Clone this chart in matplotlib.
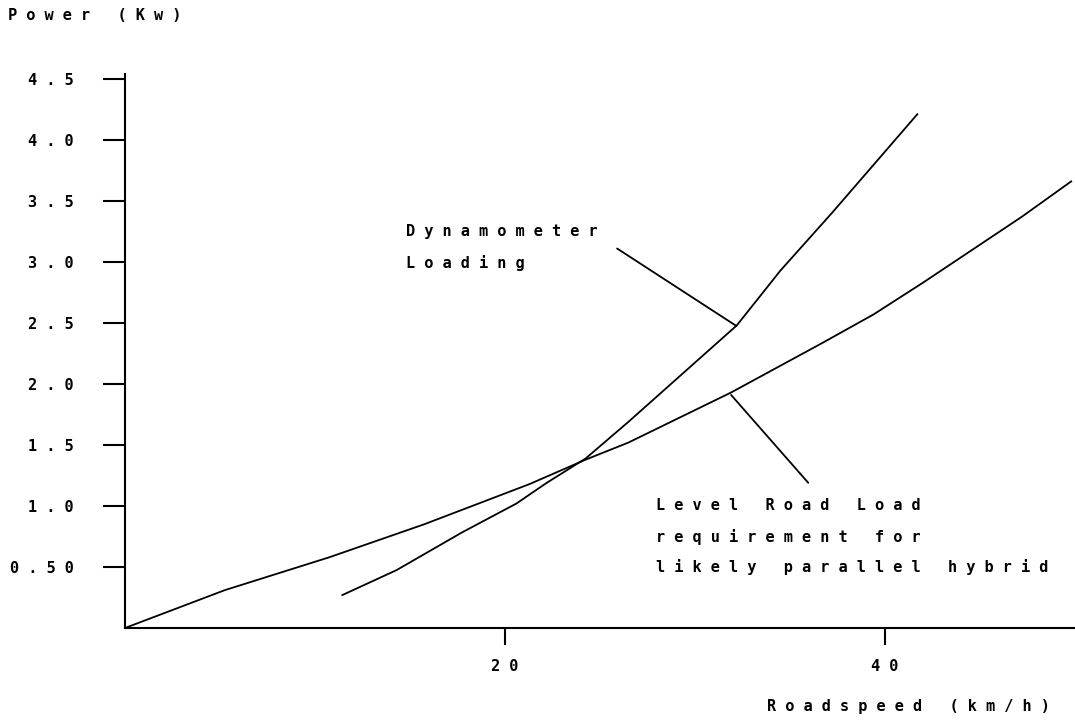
import matplotlib
matplotlib.use("Agg")
from matplotlib import pyplot as plt

# roadspeed (km/h) vs power (kW)
road_speed = [0, 5.25, 10.76, 15.75, 21.3, 24.25, 26.5, 31.9, 36.75, 39.4, 42.0, 44.6, 47.2, 49.8]
road_power = [0, 0.31, 0.58, 0.85, 1.18, 1.38, 1.52, 1.93, 2.34, 2.57, 2.83, 3.10, 3.37, 3.66]

dyno_speed = [11.44, 14.3, 17.7, 20.6, 22.2, 24.25, 26.5, 32.2, 34.5, 37.2, 41.7]
dyno_power = [0.27, 0.475, 0.78, 1.02, 1.19, 1.39, 1.69, 2.48, 2.93, 3.40, 4.21]

y_ticks = [0.5, 1.0, 1.5, 2.0, 2.5, 3.0, 3.5, 4.0, 4.5]
y_labels = ["0.50", "1.0", "1.5", "2.0", "2.5", "3.0", "3.5", "4.0", "4.5"]
x_ticks = [20, 40]
x_labels = ["20", "40"]


def spaced(s):
    # old plotter font has very wide letter spacing
    return " ".join(s)


font = dict(family="DejaVu Sans Mono", size=11, weight="bold")

fig = plt.figure(figsize=(10.75, 7.2), dpi=100)
ax = fig.add_axes([125 / 1075, 92 / 720, 950 / 1075, 554 / 720])

ax.plot(road_speed, road_power, color="black", lw=1.3)
ax.plot(dyno_speed, dyno_power, color="black", lw=1.3)

ax.set_xlim(0, 50)
ax.set_ylim(0, 4.54)

for side in ["top", "right"]:
    ax.spines[side].set_visible(False)
for side in ["left", "bottom"]:
    ax.spines[side].set_linewidth(1.5)

ax.set_yticks(y_ticks)
ax.set_yticklabels([spaced(t) for t in y_labels], fontdict=font)
ax.set_xticks(x_ticks)
ax.set_xticklabels([spaced(t) for t in x_labels], fontdict=font)
ax.tick_params(axis="y", direction="out", length=16, width=1.5, pad=21)
ax.tick_params(axis="x", direction="out", length=12, width=1.5, pad=10)

fig.text(8 / 1075, 1 - 16 / 720, spaced("Power (Kw)"), ha="left", va="center", **font)
fig.text(1050 / 1075, 1 - 706 / 720, spaced("Roadspeed (km/h)"), ha="right", va="center", **font)

# callouts
ax.text(14.77, 3.25, spaced("Dynamometer"), ha="left", va="center", **font)
ax.text(14.77, 2.99, spaced("Loading"), ha="left", va="center", **font)
ax.annotate("", xy=(32.18, 2.475), xytext=(25.9, 3.11),
            arrowprops=dict(arrowstyle="-", color="black", lw=1.3, shrinkA=0, shrinkB=0))

ax.text(27.97, 1.0, spaced("Level Road Load"), ha="left", va="center", **font)
ax.text(27.97, 0.746, spaced("requirement for"), ha="left", va="center", **font)
ax.text(27.97, 0.5, spaced("likely parallel hybrid"), ha="left", va="center", **font)
ax.annotate("", xy=(31.9, 1.91), xytext=(35.96, 1.19),
            arrowprops=dict(arrowstyle="-", color="black", lw=1.3, shrinkA=0, shrinkB=0))

plt.savefig("out.png", dpi=100)
